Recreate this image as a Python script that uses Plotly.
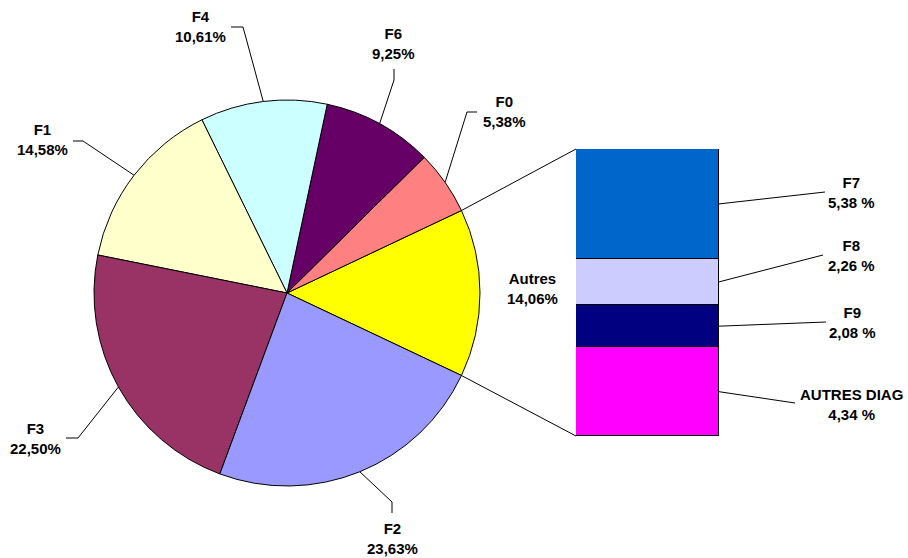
import math
import plotly.graph_objects as go

W, H = 908, 558

# Main pie (counter-clockwise from "Autres", which is centred on 3 o'clock)
pie_labels = ["Autres", "F0", "F6", "F4", "F1", "F3", "F2"]
pie_values = [14.06, 5.38, 9.25, 10.61, 14.58, 22.50, 23.63]
pie_colors = ["#FFFF00", "#FF8080", "#660066", "#CCFFFF", "#FFFFCC", "#993366", "#9999FF"]

# Breakdown of "Autres" (stack order bottom -> top)
bar_labels = ["AUTRES DIAG", "F9", "F8", "F7"]
bar_values = [4.34, 2.08, 2.26, 5.38]
bar_colors = ["#FF00FF", "#000080", "#CCCCFF", "#0066CC"]

# Geometry in pixels
PIE_CX, PIE_CY, PIE_R = 287, 293, 193
BAR_X0, BAR_X1, BAR_TOP, BAR_BOT = 576, 719, 149, 436

# Label centres and leader-line elbows (pixels)
pie_label_pos = {
    "F0": (504, 111), "F6": (393, 43), "F4": (200, 27), "F1": (42, 140),
    "F3": (35, 438), "F2": (392, 538),
}
pie_elbows = {
    "F0": [(467, 112), (477, 112)],
    "F6": [(394, 80), (394, 69)],
    "F4": [(243, 27), (231, 27)],
    "F1": [(83, 141), (73, 141)],
    "F3": [(78, 438), (66, 438)],
    "F2": [(392, 502), (392, 513)],
}
autres_label_pos = (532, 289)
bar_label_pos = {"F7": (851, 192), "F8": (851, 255), "F9": (852, 322), "AUTRES DIAG": (851, 404)}
bar_leader_end = {"F7": (825, 192), "F8": (823, 255), "F9": (826, 322), "AUTRES DIAG": (795, 403)}


def fr(v, sep=""):
    return f"{v:.2f}".replace(".", ",") + sep + "%"


def px(x, y):
    return x / W, 1 - y / H


total = sum(pie_values)
half = pie_values[0] / total * 180.0

# mid angle (degrees, counter-clockwise from east) of every slice
mid_angle = {}
a = -half
for lab, v in zip(pie_labels, pie_values):
    span = v / total * 360.0
    mid_angle[lab] = a + span / 2
    a += span


def on_circle(deg):
    r = math.radians(deg)
    return PIE_CX + PIE_R * math.cos(r), PIE_CY - PIE_R * math.sin(r)


bar_total = sum(bar_values)


def bar_y_px(v):
    return BAR_BOT - v / bar_total * (BAR_BOT - BAR_TOP)


fig = go.Figure()

fig.add_trace(go.Pie(
    labels=pie_labels, values=pie_values, sort=False,
    direction="counterclockwise", rotation=90 - half,
    marker=dict(colors=pie_colors, line=dict(color="black", width=1)),
    textinfo="none", hoverinfo="label+percent", showlegend=False,
    domain=dict(x=[(PIE_CX - PIE_R) / W, (PIE_CX + PIE_R) / W],
                y=[1 - (PIE_CY + PIE_R) / H, 1 - (PIE_CY - PIE_R) / H]),
))

for lab, v, c in zip(bar_labels, bar_values, bar_colors):
    fig.add_trace(go.Bar(
        x=[0], y=[v], width=[1], name=lab, cliponaxis=False,
        marker=dict(color=c, line=dict(color="black", width=1.3)),
        xaxis="x", yaxis="y", showlegend=False, hoverinfo="name+y",
    ))

# Leader and connector lines on a full-page pixel axis
line_style = dict(color="black", width=1)
segments = []
for lab in pie_elbows:
    segments.append([on_circle(mid_angle[lab])] + pie_elbows[lab])

# connectors from the "Autres" slice edges to the bar corners
segments.append([on_circle(half), (BAR_X0, bar_y_px(bar_total))])
segments.append([on_circle(-half), (BAR_X0, bar_y_px(0))])

cum = 0
for lab, v in zip(bar_labels, bar_values):
    ymid = bar_y_px(cum + v / 2)
    cum += v
    segments.append([(BAR_X1, ymid), bar_leader_end[lab]])

for seg in segments:
    fig.add_trace(go.Scatter(
        x=[p[0] for p in seg], y=[p[1] for p in seg], mode="lines",
        line=line_style, xaxis="x2", yaxis="y2", showlegend=False, hoverinfo="skip",
    ))

font = dict(family="Arial, Liberation Sans, sans-serif", size=15, color="black")
annotations = []
for lab, v in zip(pie_labels, pie_values):
    if lab == "Autres":
        x, y = px(*autres_label_pos)
    else:
        x, y = px(*pie_label_pos[lab])
    annotations.append(dict(
        x=x, y=y, xref="paper", yref="paper", showarrow=False,
        text=f"<b>{lab}</b><br><b>{fr(v)}</b>", font=font,
        xanchor="center", yanchor="middle", align="center",
    ))
for lab, v in zip(bar_labels, bar_values):
    x, y = px(*bar_label_pos[lab])
    annotations.append(dict(
        x=x, y=y, xref="paper", yref="paper", showarrow=False,
        text=f"<b>{lab}</b><br><b>{fr(v, ' ')}</b>", font=font,
        xanchor="center", yanchor="middle", align="center",
    ))

fig.update_layout(
    width=W, height=H, margin=dict(l=0, r=0, t=0, b=0),
    paper_bgcolor="white", plot_bgcolor="rgba(0,0,0,0)",
    barmode="stack", bargap=0, showlegend=False,
    xaxis=dict(domain=[BAR_X0 / W, BAR_X1 / W], range=[-0.5, 0.5], visible=False, fixedrange=True),
    yaxis=dict(domain=[1 - BAR_BOT / H, 1 - BAR_TOP / H], range=[0, bar_total], visible=False, fixedrange=True),
    xaxis2=dict(domain=[0, 1], range=[0, W], visible=False, fixedrange=True),
    yaxis2=dict(domain=[0, 1], range=[H, 0], visible=False, fixedrange=True, anchor="x2"),
    annotations=annotations,
)

fig.write_html("out.html")
